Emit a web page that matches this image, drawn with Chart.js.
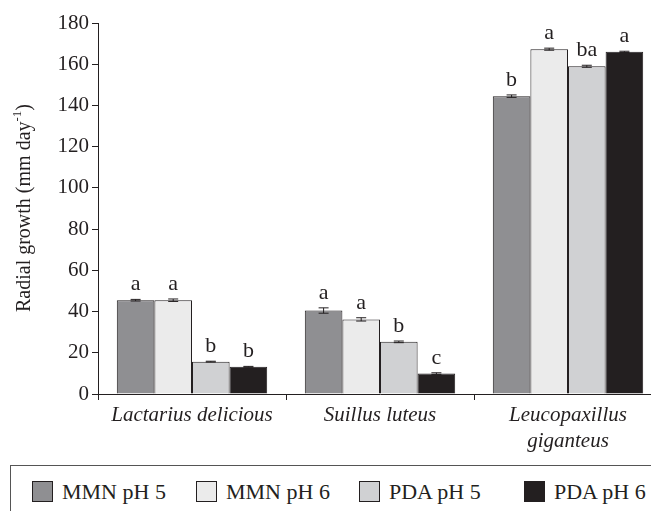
<!DOCTYPE html>
<html>
<head>
<meta charset="utf-8">
<script src="https://cdn.jsdelivr.net/npm/chart.js@4.4.1/dist/chart.umd.min.js"></script>
<style>
  html, body { margin: 0; padding: 0; background: #fff; overflow: hidden; }
  #wrap { position: relative; width: 651px; height: 511px; overflow: hidden; }
  #chart { position: absolute; left: 0; top: 0; }
  #legend {
    position: absolute; left: 10px; top: 465px; width: 700px; height: 80px;
    border: 1px solid #555; font-family: 'Liberation Serif', serif; font-size: 22px; color: #231f20;
  }
  .item { position: absolute; top: 15px; height: 21px; display: flex; align-items: center; white-space: nowrap; }
  .swatch { width: 19px; height: 19px; border: 1px solid #231f20; margin-right: 9px; }
</style>
</head>
<body>
<div id="wrap">
  <canvas id="chart" width="662" height="465"></canvas>
  <div id="legend"></div>
</div>
<script>
const categories = [['Lactarius delicious'], ['Suillus luteus'], ['Leucopaxillus', 'giganteus']];
const seriesNames = ['MMN pH 5', 'MMN pH 6', 'PDA pH 5', 'PDA pH 6'];
const seriesColors = ['#8f8f92', '#ebebeb', '#d0d1d3', '#231f20'];

const mmnPh5 = [45.5, 40.5, 144.5];
const mmnPh6 = [45.5, 36.2, 167.3];
const pdaPh5 = [15.7, 25.3, 159.0];
const pdaPh6 = [13.2, 9.9, 166.0];

const mmnPh5Err = [0.4, 1.3, 0.6];
const mmnPh6Err = [0.6, 0.8, 0.5];
const pdaPh5Err = [0.2, 0.4, 0.5];
const pdaPh6Err = [0.2, 0.4, 0.3];

const mmnPh5Letters = ['a', 'a', 'b'];
const mmnPh6Letters = ['a', 'a', 'a'];
const pdaPh5Letters = ['b', 'b', 'ba'];
const pdaPh6Letters = ['b', 'c', 'a'];

const yTicks = [0, 20, 40, 60, 80, 100, 120, 140, 160, 180];

const ink = '#231f20';
const serif = '"Liberation Serif", "Times New Roman", serif';

const values = [mmnPh5, mmnPh6, pdaPh5, pdaPh6];
const errors = [mmnPh5Err, mmnPh6Err, pdaPh5Err, pdaPh6Err];
const letters = [mmnPh5Letters, mmnPh6Letters, pdaPh5Letters, pdaPh6Letters];

// error bars + significance letters on top of each bar
const errorBarPlugin = {
  id: 'errorBars',
  afterDatasetsDraw(chart) {
    const { ctx } = chart;
    const y = chart.scales.y;
    ctx.save();
    chart.data.datasets.forEach((ds, i) => {
      chart.getDatasetMeta(i).data.forEach((bar, j) => {
        const v = ds.data[j];
        const e = errors[i][j];
        const top = y.getPixelForValue(v + e);
        const bottom = y.getPixelForValue(v - e);
        ctx.strokeStyle = ink;
        ctx.lineWidth = 1;
        ctx.beginPath();
        ctx.moveTo(bar.x, top); ctx.lineTo(bar.x, bottom);
        ctx.moveTo(bar.x - 5, top); ctx.lineTo(bar.x + 5, top);
        ctx.moveTo(bar.x - 5, bottom); ctx.lineTo(bar.x + 5, bottom);
        ctx.stroke();
        ctx.fillStyle = ink;
        ctx.font = '22px ' + serif;
        ctx.textAlign = 'center';
        ctx.textBaseline = 'alphabetic';
        ctx.fillText(letters[i][j], bar.x, top - 9);
      });
    });
    ctx.restore();
  }
};

// y title with a real superscript
const yTitlePlugin = {
  id: 'yTitle',
  afterDraw(chart) {
    const { ctx } = chart;
    const main = 'Radial growth (mm day';
    const sup = '-1';
    const tail = ')';
    const f1 = '20px ' + serif;
    const f2 = '13px ' + serif;
    ctx.save();
    ctx.translate(25, 208);
    ctx.rotate(-Math.PI / 2);
    ctx.font = f1;
    const w1 = ctx.measureText(main).width;
    const w3 = ctx.measureText(tail).width;
    ctx.font = f2;
    const w2 = ctx.measureText(sup).width;
    let x = -(w1 + w2 + w3) / 2;
    ctx.fillStyle = ink;
    ctx.textAlign = 'left';
    ctx.textBaseline = 'middle';
    ctx.font = f1; ctx.fillText(main, x, 0); x += w1;
    ctx.font = f2; ctx.fillText(sup, x, -7); x += w2;
    ctx.font = f1; ctx.fillText(tail, x, 0);
    ctx.restore();
  }
};

new Chart(document.getElementById('chart'), {
  type: 'bar',
  data: {
    labels: categories,
    datasets: seriesNames.map((name, i) => ({
      label: name,
      data: values[i],
      backgroundColor: seriesColors[i],
      borderColor: ink,
      borderWidth: 1,
      categoryPercentage: 0.8,
      barPercentage: 1.0
    }))
  },
  options: {
    responsive: false,
    animation: false,
    layout: { padding: { top: 23, right: 0, bottom: 0, left: 0 } },
    plugins: { legend: { display: false }, tooltip: { enabled: false } },
    scales: {
      x: {
        offset: true,
        grid: { offset: true, drawOnChartArea: false, drawTicks: true, tickLength: 6, color: ink },
        border: { color: ink, width: 1 },
        ticks: { color: ink, font: { family: serif, size: 21, style: 'italic', lineHeight: 1.25 }, padding: 2, maxRotation: 0 },
        afterFit: (s) => { s.height = 71; }
      },
      y: {
        min: 0,
        max: 180,
        afterBuildTicks: (s) => { s.ticks = yTicks.map((v) => ({ value: v })); },
        grid: { drawOnChartArea: false, drawTicks: true, tickLength: 6, color: ink },
        border: { color: ink, width: 1 },
        ticks: { color: ink, font: { family: serif, size: 21 }, padding: 3 },
        afterFit: (s) => { s.width = 98; }
      }
    }
  },
  plugins: [errorBarPlugin, yTitlePlugin]
});

const legend = document.getElementById('legend');
const legendX = [21, 185, 348, 513];
seriesNames.forEach((name, i) => {
  const item = document.createElement('div');
  item.className = 'item';
  item.style.left = legendX[i] + 'px';
  const sw = document.createElement('span');
  sw.className = 'swatch';
  sw.style.background = seriesColors[i];
  item.appendChild(sw);
  item.appendChild(document.createTextNode(name));
  legend.appendChild(item);
});
</script>
</body>
</html>
